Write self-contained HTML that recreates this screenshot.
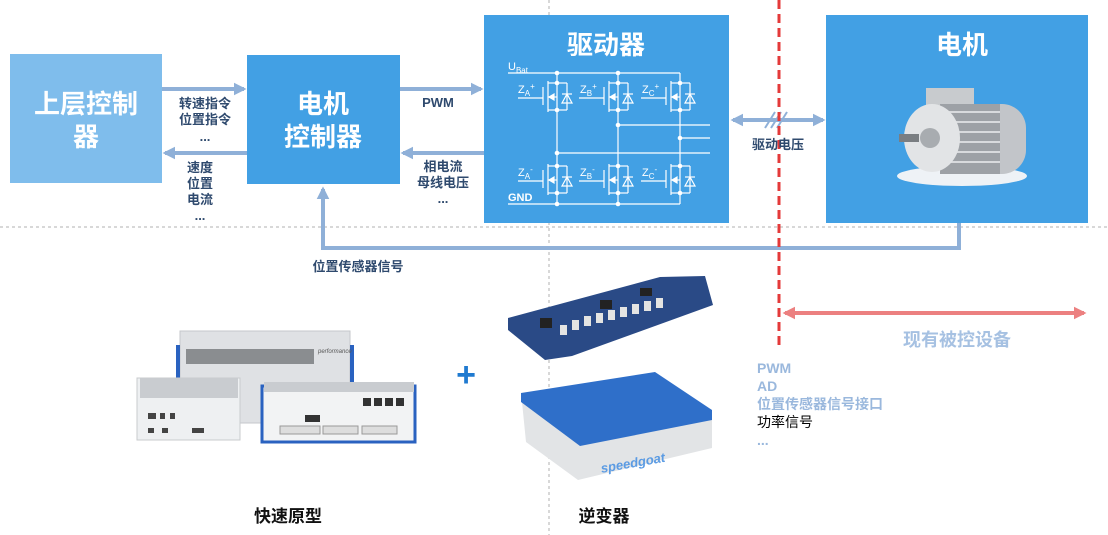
<!DOCTYPE html>
<html><head><meta charset="utf-8"><style>
html,body{margin:0;padding:0;background:#fff;}
svg{display:block;}
text{font-family:"Liberation Sans","Noto Sans CJK SC",sans-serif;}
</style></head><body>
<svg width="1108" height="535" viewBox="0 0 1108 535" xmlns="http://www.w3.org/2000/svg">
<defs>
<marker id="ah" viewBox="0 0 10 10" refX="8" refY="5" markerWidth="3.2" markerHeight="3.2" orient="auto-start-reverse"><path d="M0,0 L10,5 L0,10 z" fill="#8fb0d8"/></marker>
<marker id="ahr" viewBox="0 0 10 10" refX="8" refY="5" markerWidth="3.2" markerHeight="3.2" orient="auto-start-reverse"><path d="M0,0 L10,5 L0,10 z" fill="#ec8080"/></marker>
<g id="sw" stroke="#fff" stroke-width="1.2" fill="none">
 <line x1="0" y1="0" x2="0" y2="27"/>
 <line x1="-9" y1="0" x2="0" y2="0"/><line x1="-9" y1="27" x2="0" y2="27"/>
 <line x1="-9" y1="-2" x2="-9" y2="29"/>
 <line x1="-14" y1="4" x2="-14" y2="22"/>
 <line x1="-39" y1="15" x2="-14" y2="15"/>
 <line x1="-9" y1="14" x2="0" y2="14"/>
 <path d="M-8,14 L-3,11 L-3,17 z" fill="#fff"/>
 <line x1="0" y1="0" x2="10" y2="0"/><line x1="0" y1="27" x2="10" y2="27"/>
 <line x1="10" y1="0" x2="10" y2="27"/>
 <path d="M5,20 L15,20 L10,11 z"/><line x1="5" y1="11" x2="15" y2="11"/>
 <circle cx="0" cy="0" r="2.3" fill="#fff" stroke="none"/><circle cx="0" cy="27" r="2.3" fill="#fff" stroke="none"/>
</g>
</defs>

<line x1="549" y1="0" x2="549" y2="535" stroke="#b0b0b0" stroke-width="1" stroke-dasharray="3,3"/>
<line x1="0" y1="227" x2="1108" y2="227" stroke="#b0b0b0" stroke-width="1" stroke-dasharray="3,3"/>

<rect x="10" y="54" width="152" height="129" fill="#7fbdec"/>
<text x="86" y="113" font-size="26" font-weight="bold" fill="#fff" text-anchor="middle">上层控制</text>
<text x="86" y="146" font-size="26" font-weight="bold" fill="#fff" text-anchor="middle">器</text>

<rect x="247" y="55" width="153" height="129" fill="#42a0e4"/>
<text x="323" y="113" font-size="26" font-weight="bold" fill="#fff" text-anchor="middle">电机</text>
<text x="323" y="146" font-size="26" font-weight="bold" fill="#fff" text-anchor="middle">控制器</text>

<rect x="484" y="15" width="245" height="208" fill="#42a0e4"/>
<text x="606" y="54" font-size="26" font-weight="bold" fill="#fff" text-anchor="middle">驱动器</text>

<rect x="826" y="15" width="262" height="208" fill="#42a0e4"/>
<text x="962" y="54" font-size="26" font-weight="bold" fill="#fff" text-anchor="middle">电机</text>

<g stroke="#fff" stroke-width="1.2" fill="none">
 <line x1="508" y1="73" x2="680" y2="73"/>
 <line x1="508" y1="204" x2="680" y2="204"/>
 <line x1="557" y1="73" x2="557" y2="83"/><line x1="618" y1="73" x2="618" y2="83"/><line x1="680" y1="73" x2="680" y2="83"/>
 <line x1="557" y1="110" x2="557" y2="166"/><line x1="618" y1="110" x2="618" y2="166"/><line x1="680" y1="110" x2="680" y2="166"/>
 <line x1="557" y1="193" x2="557" y2="204"/><line x1="618" y1="193" x2="618" y2="204"/><line x1="680" y1="193" x2="680" y2="204"/>
 <line x1="618" y1="125" x2="710" y2="125"/>
 <line x1="680" y1="138" x2="710" y2="138"/>
 <line x1="557" y1="153" x2="710" y2="153"/>
</g>
<g fill="#fff">
 <circle cx="557" cy="73" r="2.3"/><circle cx="618" cy="73" r="2.3"/>
 <circle cx="557" cy="204" r="2.3"/><circle cx="618" cy="204" r="2.3"/>
 <circle cx="618" cy="125" r="2.3"/><circle cx="680" cy="138" r="2.3"/><circle cx="557" cy="153" r="2.3"/>
</g>
<use href="#sw" x="557" y="83"/><use href="#sw" x="618" y="83"/><use href="#sw" x="680" y="83"/>
<use href="#sw" x="557" y="166"/><use href="#sw" x="618" y="166"/><use href="#sw" x="680" y="166"/>
<g fill="#fff" font-size="11">
 <text x="508" y="70">U<tspan font-size="8" dy="3">Bat</tspan></text>
 <text x="508" y="201" font-weight="bold">GND</text>
 <text x="518" y="93">Z<tspan font-size="8" dy="3">A</tspan><tspan font-size="8" dy="-7">+</tspan></text>
 <text x="580" y="93">Z<tspan font-size="8" dy="3">B</tspan><tspan font-size="8" dy="-7">+</tspan></text>
 <text x="642" y="93">Z<tspan font-size="8" dy="3">C</tspan><tspan font-size="8" dy="-7">+</tspan></text>
 <text x="518" y="176">Z<tspan font-size="8" dy="3">A</tspan><tspan font-size="8" dy="-7">-</tspan></text>
 <text x="580" y="176">Z<tspan font-size="8" dy="3">B</tspan><tspan font-size="8" dy="-7">-</tspan></text>
 <text x="642" y="176">Z<tspan font-size="8" dy="3">C</tspan><tspan font-size="8" dy="-7">-</tspan></text>
</g>

<!-- motor picture -->
<ellipse cx="962" cy="176" rx="65" ry="10" fill="#eef2f6"/>
<rect x="926" y="88" width="48" height="20" fill="#c8cbce"/>
<rect x="972" y="104" width="54" height="70" rx="24" fill="#c2c5c9"/>
<rect x="940" y="104" width="60" height="70" fill="#9da1a6"/>
<g stroke="#d8dadd" stroke-width="2"><line x1="945" y1="112" x2="1000" y2="112"/><line x1="945" y1="122" x2="1000" y2="122"/><line x1="945" y1="132" x2="1000" y2="132"/><line x1="945" y1="142" x2="1000" y2="142"/><line x1="945" y1="152" x2="1000" y2="152"/><line x1="945" y1="162" x2="1000" y2="162"/></g>
<ellipse cx="932" cy="138" rx="28" ry="34" fill="#e2e4e6"/>
<ellipse cx="930" cy="138" rx="10" ry="10" fill="#a8acb0"/>
<rect x="899" y="134" width="20" height="8" fill="#7a7e82"/>

<g stroke="#8fb0d8" stroke-width="4" fill="none">
 <line x1="162" y1="89" x2="244" y2="89" marker-end="url(#ah)"/>
 <line x1="247" y1="153" x2="165" y2="153" marker-end="url(#ah)"/>
 <line x1="400" y1="89" x2="481" y2="89" marker-end="url(#ah)"/>
 <line x1="484" y1="153" x2="403" y2="153" marker-end="url(#ah)"/>
 <line x1="733" y1="120" x2="823" y2="120" marker-start="url(#ah)" marker-end="url(#ah)"/>
 <path d="M959,223 L959,248 L323,248 L323,189" marker-end="url(#ah)"/>
</g>
<g stroke="#8fb0d8" stroke-width="2"><line x1="765" y1="128" x2="775" y2="112"/><line x1="771" y1="128" x2="781" y2="112"/><line x1="777" y1="128" x2="787" y2="112"/></g>

<line x1="779" y1="0" x2="779" y2="345" stroke="#e43a3a" stroke-width="3" stroke-dasharray="9,5"/>
<line x1="785" y1="313" x2="1084" y2="313" stroke="#ec8080" stroke-width="4" marker-start="url(#ahr)" marker-end="url(#ahr)"/>

<g fill="#2f4a6e" font-size="13" font-weight="bold" text-anchor="middle">
 <text x="205" y="108">转速指令</text>
 <text x="205" y="124">位置指令</text>
 <text x="205" y="141">...</text>
 <text x="200" y="172">速度</text>
 <text x="200" y="188">位置</text>
 <text x="200" y="204">电流</text>
 <text x="200" y="220">...</text>
 <text x="438" y="107">PWM</text>
 <text x="443" y="171">相电流</text>
 <text x="443" y="187">母线电压</text>
 <text x="443" y="203">...</text>
 <text x="778" y="149">驱动电压</text>
 <text x="358" y="271">位置传感器信号</text>
</g>
<text x="957" y="346" font-size="18" font-weight="bold" fill="#a6c1e2" text-anchor="middle">现有被控设备</text>
<g font-size="14" font-weight="bold" fill="#9ab8dd">
 <text x="757" y="373">PWM</text>
 <text x="757" y="391">AD</text>
 <text x="757" y="409">位置传感器信号接口</text>
 <text x="757" y="427" fill="#000" font-weight="normal">功率信号</text>
 <text x="757" y="445">...</text>
</g>
<text x="288" y="522" font-size="17" font-weight="bold" fill="#111" text-anchor="middle">快速原型</text>
<text x="604" y="522" font-size="17" font-weight="bold" fill="#111" text-anchor="middle">逆变器</text>
<text x="466" y="386" font-size="34" font-weight="bold" fill="#1f7ad0" text-anchor="middle">+</text>

<rect x="180" y="331" width="170" height="92" fill="#dfe1e4" stroke="#c4c7cb"/>
<rect x="176" y="345" width="4" height="70" fill="#2a62c0"/><rect x="350" y="345" width="4" height="70" fill="#2a62c0"/>
<rect x="186" y="349" width="128" height="15" fill="#8a8d90"/>
<text x="318" y="353" font-size="6" font-style="italic" fill="#555">performance</text>
<rect x="137" y="378" width="103" height="62" fill="#eef0f2" stroke="#c8cbce"/>
<rect x="140" y="378" width="98" height="20" fill="#c9ccd0"/>
<g fill="#444"><rect x="148" y="413" width="8" height="6"/><rect x="160" y="413" width="5" height="6"/><rect x="170" y="413" width="5" height="6"/><rect x="148" y="428" width="6" height="5"/><rect x="162" y="428" width="6" height="5"/><rect x="192" y="428" width="12" height="5"/></g>
<rect x="262" y="386" width="153" height="56" fill="#f2f3f4" stroke="#2a62c0" stroke-width="3"/>
<rect x="264" y="382" width="150" height="10" fill="#c9ccd0"/>
<g fill="#333"><rect x="363" y="398" width="8" height="8"/><rect x="374" y="398" width="8" height="8"/><rect x="385" y="398" width="8" height="8"/><rect x="396" y="398" width="8" height="8"/><rect x="305" y="415" width="15" height="7"/></g>
<rect x="280" y="426" width="40" height="8" fill="#ddd" stroke="#999"/><rect x="323" y="426" width="35" height="8" fill="#ddd" stroke="#999"/><rect x="362" y="426" width="35" height="8" fill="#ddd" stroke="#999"/>

<polygon points="508,318 660,277 705,276 713,305 572,356 545,360 508,330" fill="#2a4a86"/>
<g fill="#e4e4e2"><rect x="560" y="325" width="7" height="10"/><rect x="572" y="320" width="7" height="10"/><rect x="584" y="316" width="7" height="10"/><rect x="596" y="313" width="7" height="10"/><rect x="608" y="310" width="7" height="10"/><rect x="620" y="307" width="7" height="10"/><rect x="632" y="304" width="7" height="10"/><rect x="644" y="301" width="7" height="10"/><rect x="656" y="298" width="7" height="10"/></g>
<g fill="#222"><rect x="540" y="318" width="12" height="10"/><rect x="600" y="300" width="12" height="9"/><rect x="640" y="288" width="12" height="8"/></g>

<polygon points="522,402 580,444 712,418 712,448 578,480 526,442" fill="#e2e4e6"/>
<polygon points="521,393 655,372 712,410 712,420 580,446 521,402" fill="#2f6fc9"/>
<text x="600" y="466" font-size="13" font-style="italic" font-weight="bold" fill="#5b9be3" transform="rotate(-10 640 460)">speedgoat</text>
</svg>
</body></html>
